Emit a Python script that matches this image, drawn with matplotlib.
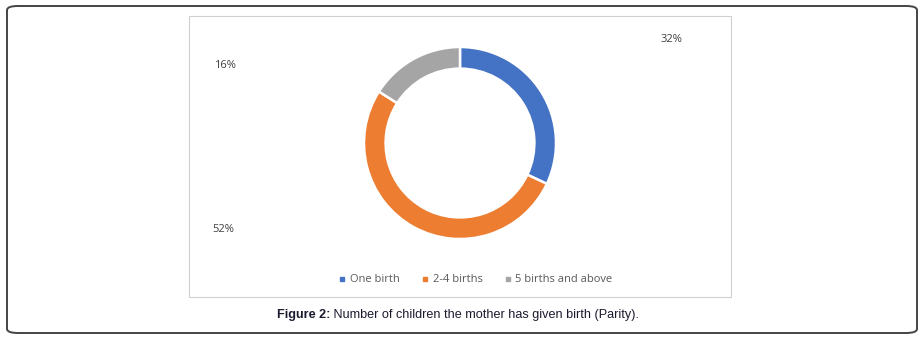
import matplotlib
matplotlib.use("Agg")
import matplotlib.pyplot as plt
from matplotlib.patches import FancyBboxPatch, Rectangle
from matplotlib.lines import Line2D

categories = ["One birth", "2-4 births", "5 births and above"]
values = [32, 52, 16]
labels = ["32%", "52%", "16%"]
colors = ["#4472C4", "#ED7D31", "#A5A5A5"]

W, H = 923, 340
fig = plt.figure(figsize=(W / 100, H / 100), dpi=100)
fig.patch.set_facecolor("white")

def fx(px):
    return px / W

def fy(py):
    return 1 - py / H

# outer rounded frame
frame = FancyBboxPatch((fx(7), fy(333)), fx(910), 327 / H,
                       boxstyle="round,pad=0,rounding_size=0.012",
                       transform=fig.transFigure, fill=False,
                       edgecolor="#444444", linewidth=1.4)
fig.patches.append(frame)

# inner chart box
inner = Rectangle((fx(189), fy(297)), fx(542), 281 / H, transform=fig.transFigure,
                  fill=False, edgecolor="#d0d0d0", linewidth=0.8)
fig.patches.append(inner)

# donut
cx, cy, r = 460, 143, 96
ax = fig.add_axes([fx(cx - r), fy(cy + r), fx(2 * r), 2 * r / H])
wedges, _ = ax.pie(values, colors=colors, startangle=90, counterclock=False,
                   radius=1, wedgeprops=dict(width=0.225, edgecolor="white", linewidth=1.8))
ax.set_xlim(-1.0, 1.0)
ax.set_ylim(-1.0, 1.0)
ax.set_aspect("equal")
ax.axis("off")

# percentage labels
label_pos = [(671, 40), (223, 229), (225, 66)]
for lab, (px, py) in zip(labels, label_pos):
    fig.text(fx(px), fy(py), lab, ha="center", va="center", fontsize=8,
             color="#404040", family=["Open Sans", "DejaVu Sans"])

# legend
handles = [Line2D([], [], linestyle="none", marker="s", markersize=3.3,
                  markerfacecolor=c, markeredgecolor=c) for c in colors]
leg = fig.legend(handles, categories, loc="center", bbox_to_anchor=(fx(476), fy(280)),
                 ncol=3, frameon=False, handlelength=0.5,
                 handletextpad=0.45, columnspacing=2.0,
                 prop={"family": "Open Sans", "size": 8.0})
for t in leg.get_texts():
    t.set_color("#595959")

# caption
x0 = 277
t1 = fig.text(fx(x0), fy(315), "Figure 2:", ha="left", va="center", fontsize=9.1,
              fontweight="bold", color="#1a1a2e", family="Liberation Sans")
fig.canvas.draw()
bb = t1.get_window_extent()
fig.text(bb.x1 / W, fy(315), " Number of children the mother has given birth (Parity).",
         ha="left", va="center", fontsize=9.1, color="#1a1a2e", family="Liberation Sans")

fig.savefig("out.png", dpi=100, facecolor="white")
